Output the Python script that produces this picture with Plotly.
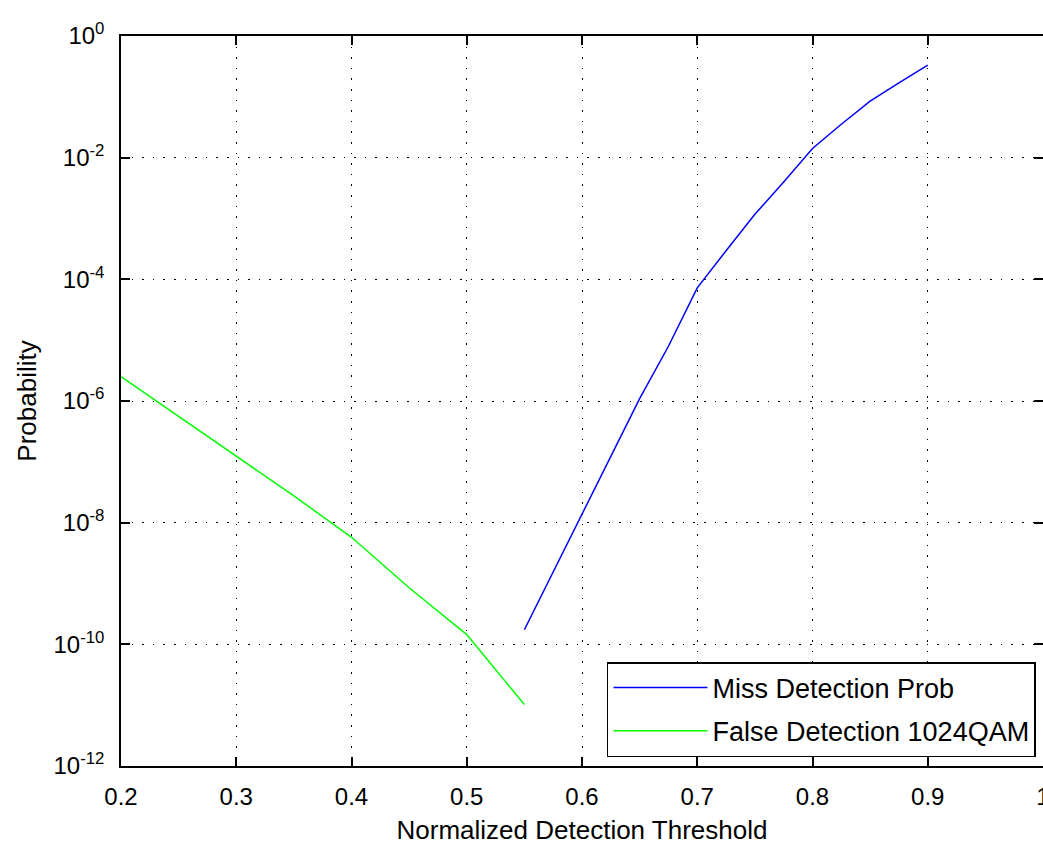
import plotly.graph_objects as go

# Data (log10 of probability)
miss_x = [0.55, 0.60, 0.65, 0.675, 0.70, 0.725, 0.75, 0.775, 0.80, 0.825, 0.85, 0.875, 0.90]
miss_log = [-9.76, -7.86, -5.96, -5.10, -4.14, -3.53, -2.93, -2.40, -1.85, -1.45, -1.07, -0.77, -0.48]

false_x = [0.20, 0.25, 0.30, 0.35, 0.40, 0.45, 0.50, 0.55]
false_log = [-5.60, -6.25, -6.90, -7.56, -8.24, -9.07, -9.84, -10.99]

x_ticks = [0.2, 0.3, 0.4, 0.5, 0.6, 0.7, 0.8, 0.9, 1.0]
x_tick_labels = ["0.2", "0.3", "0.4", "0.5", "0.6", "0.7", "0.8", "0.9", "1"]
y_exps = [-12, -10, -8, -6, -4, -2, 0]

miss_y = [10 ** v for v in miss_log]
false_y = [10 ** v for v in false_log]

FONT = "Liberation Sans, Arial, sans-serif"

fig = go.Figure()
fig.add_trace(go.Scatter(x=miss_x, y=miss_y, mode="lines", name="Miss Detection Prob",
                         legendgroup="a",
                         line=dict(color="#0000ff", width=1.5)))
fig.add_trace(go.Scatter(x=false_x, y=false_y, mode="lines", name="False Detection 1024QAM",
                         legendgroup="b",
                         line=dict(color="#00ff00", width=1.5)))

axis_common = dict(
    showline=True, linecolor="black", linewidth=1.5, mirror="ticks",
    ticks="inside", ticklen=9, tickwidth=1.5, tickcolor="black",
    showgrid=True, gridcolor="black", gridwidth=1.4, griddash="1.6px,9px",
    zeroline=False, tickfont=dict(family=FONT, size=24, color="black"),
    ticklabeloverflow="allow",
)

fig.update_xaxes(
    range=[0.2, 1.0], tickmode="array", tickvals=x_ticks, ticktext=x_tick_labels,
    title=dict(text="Normalized Detection Threshold", font=dict(family=FONT, size=26, color="black"),
               standoff=19),
    ticklabelstandoff=8,
    **axis_common,
)
fig.update_yaxes(
    type="log", range=[-12, 0], tickmode="array",
    tickvals=[10 ** e for e in y_exps],
    ticktext=["10<sup>%d</sup>" % e for e in y_exps],
    title=dict(text="Probability", font=dict(family=FONT, size=26, color="black"), standoff=9),
    ticklabelstandoff=10,
    **axis_common,
)

fig.update_layout(
    width=1043, height=845,
    margin=dict(l=121, r=0, t=36, b=79, autoexpand=False),
    plot_bgcolor="white", paper_bgcolor="white",
    font=dict(family=FONT, size=24, color="black"),
    showlegend=True,
    legend=dict(
        x=0.9924, y=0.0123, xanchor="right", yanchor="bottom",
        bgcolor="white", bordercolor="black", borderwidth=1.5,
        font=dict(family=FONT, size=27, color="black"),
        itemwidth=94, tracegroupgap=5, traceorder="grouped",
    ),
)

fig.write_html("out.html", config={"displayModeBar": False},
               post_script="document.body.style.margin='0';document.body.style.overflow='hidden';")
